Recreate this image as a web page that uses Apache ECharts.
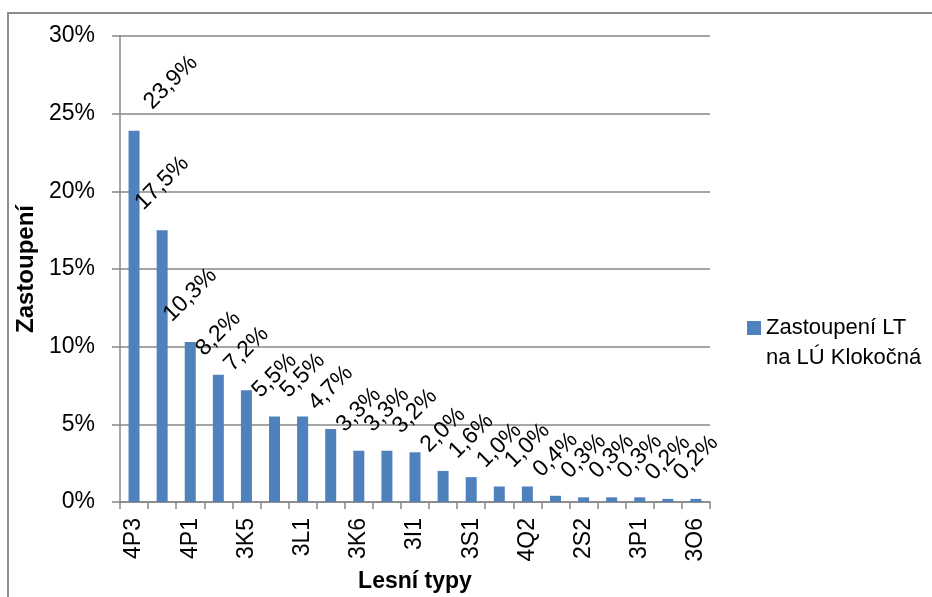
<!DOCTYPE html>
<html>
<head>
<meta charset="utf-8">
<script src="https://cdn.jsdelivr.net/npm/echarts@6/dist/echarts.min.js"></script>
<style>
  html, body { margin: 0; padding: 0; background: #fff; }
  #chart { width: 932px; height: 597px; }
</style>
</head>
<body>
<div id="chart"></div>
<script>
// Forest types (every other category name is shown on the axis)
const categories = ['4P3', '', '4P1', '', '3K5', '', '3L1', '', '3K6', '', '3I1', '',
                    '3S1', '', '4Q2', '', '2S2', '', '3P1', '', '3O6'];
// Share of each forest type, in percent
const values = [23.9, 17.5, 10.3, 8.2, 7.2, 5.5, 5.5, 4.7, 3.3, 3.3, 3.2, 2.0,
                1.6, 1.0, 1.0, 0.4, 0.3, 0.3, 0.3, 0.2, 0.2];
const yTicks = [0, 5, 10, 15, 20, 25, 30];

const seriesName = 'Zastoupení LT na LÚ Klokočná';
const legendLines = ['Zastoupení LT', 'na LÚ Klokočná'];
const FONT = 'Liberation Sans, Arial, sans-serif';
const GRID_COLOR = '#878787';

function fmt(v) {
  return v.toFixed(1).replace('.', ',') + '%';
}

// Longer labels are rotated around their centre, so they sit a bit further out
const barData = values.map(function (v) {
  return { value: v, label: { distance: fmt(v).length > 4 ? 47 : 41 } };
});

const chart = echarts.init(document.getElementById('chart'), null, { renderer: 'canvas' });

chart.setOption({
  animation: false,
  backgroundColor: '#ffffff',
  textStyle: { fontFamily: FONT },
  graphic: [{
    type: 'rect',
    shape: { x: 8, y: 13, width: 1000, height: 700 },
    style: { fill: 'none', stroke: '#8c8c8c', lineWidth: 2 },
    silent: true
  }],
  grid: { left: 120, right: 222, top: 36, bottom: 95, outerBoundsMode: 'none', containLabel: false },
  legend: {
    left: 742,
    top: 308,
    orient: 'vertical',
    // square at the top of a tall item box so it lines up with the first text line
    icon: 'path://M0,0H14V14H0Z M7,44h0.01v0.01h-0.01Z',
    itemWidth: 14,
    itemHeight: 44,
    formatter: function () { return legendLines.join('\n'); },
    textStyle: { fontFamily: FONT, fontSize: 22, color: '#000', lineHeight: 30 },
    data: [seriesName]
  },
  xAxis: {
    type: 'category',
    data: categories,
    name: 'Lesní typy',
    nameLocation: 'middle',
    nameGap: 68,
    nameTextStyle: { fontFamily: FONT, fontSize: 23, fontWeight: 'bold', color: '#000' },
    axisLine: { lineStyle: { color: GRID_COLOR, width: 1.5 } },
    axisTick: { show: true, length: 7, lineStyle: { color: GRID_COLOR, width: 1.5 } },
    axisLabel: {
      interval: 0,
      rotate: 90,
      margin: 16,
      fontFamily: FONT,
      fontSize: 23,
      color: '#000'
    }
  },
  yAxis: {
    type: 'value',
    min: 0,
    max: 30,
    interval: 5,
    name: 'Zastoupení',
    nameLocation: 'middle',
    nameGap: 77,
    nameTextStyle: { fontFamily: FONT, fontSize: 24, fontWeight: 'bold', color: '#000' },
    axisLine: { show: true, lineStyle: { color: GRID_COLOR, width: 1.5 } },
    axisTick: { show: true, length: 8, lineStyle: { color: GRID_COLOR, width: 1.5 } },
    splitLine: { show: true, lineStyle: { color: GRID_COLOR, width: 1.5 } },
    axisLabel: {
      margin: 25,
      fontFamily: FONT,
      fontSize: 23,
      color: '#000',
      formatter: function (v) { return yTicks.indexOf(v) >= 0 ? v + '%' : ''; }
    }
  },
  series: [{
    name: seriesName,
    type: 'bar',
    data: barData,
    barWidth: 11,
    itemStyle: { color: '#4F81BD' },
    label: {
      show: true,
      position: 'top',
      rotate: 45,
      align: 'center',
      verticalAlign: 'middle',
      fontFamily: FONT,
      fontSize: 23,
      color: '#000',
      formatter: function (p) { return fmt(p.value); }
    },
    // the first label is moved to the right of its bar (shift is in the label's rotated frame)
    labelLayout: function (params) {
      if (params.dataIndex === 0) return { dx: 27, dy: 25, hideOverlap: false };
      return { hideOverlap: false };
    }
  }]
});
</script>
</body>
</html>
